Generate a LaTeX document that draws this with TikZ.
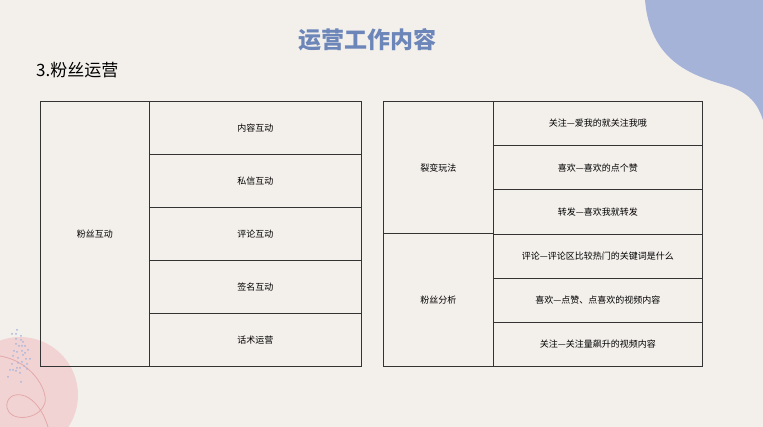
\documentclass[tikz,border=0pt]{standalone}
\usepackage{fontspec}
\setmainfont{Noto Sans CJK SC}
\usetikzlibrary{positioning}
\definecolor{bgpaper}{HTML}{F3F0EC}
\definecolor{blobblue}{HTML}{A5B3D8}
\definecolor{titleblue}{HTML}{6C86B9}
\definecolor{blobpink}{HTML}{F2D3D3}
\definecolor{linepink}{HTML}{E3A9AB}
\definecolor{dotblue}{HTML}{A8B5DC}
\tikzset{
    cell/.style={draw=black!80, thick, anchor=north west, font=\fontsize{9}{11}\selectfont, inner sep=0pt}
}
\begin{document}
\begin{tikzpicture}[x=1pt, y=-1pt]
    % background
    \fill[bgpaper] (0,0) rectangle (763,427);
    \useasboundingbox (0,0) rectangle (763,427);

    % decorations
    \fill[blobblue] (645,0) .. controls (650,60) and (690,75) .. (725,85)
        .. controls (750,92) and (758,105) .. (763,120) -- (763,0) -- cycle;
    \fill[blobpink] (20,395) circle (58);
    \draw[linepink, thick] (0,356) .. controls (35,362) and (50,395) .. (44,405)
        .. controls (38,420) and (10,422) .. (7,408) .. controls (4,390) and (35,385) .. (48,427);
    \foreach \px/\py in {17/20, 12/24, 16/24, 21/26, 16/29, 21/30, 23/32, 16/34, 19/36, 22/36, 25/36,
        14/41, 17/42, 22/41, 25/43, 28/40, 13/46, 18/48, 23/45, 26/49, 30/49, 12/54, 18/53,
        22/52, 27/54, 17/58, 20/58, 24/56, 10/60, 13/60, 16/61, 20/63, 27/59, 8/67, 21/72}
        \fill[dotblue] (\px,310+\py) circle (1);

    % headings
    \node[font=\fontsize{23}{26}\selectfont\bfseries, text=titleblue] (title) at (367,40) {运营工作内容};
    \node[font=\fontsize{17}{20}\selectfont, anchor=west, inner sep=0pt] (sub) at (36,70) {3.粉丝运营};

    % left table
    \node[cell, minimum width=109, minimum height=265] (fans) at (40,101) {粉丝互动};
    \foreach \t [count=\i] in {内容互动,私信互动,评论互动,签名互动,话术运营}
        \node[cell, minimum width=212, minimum height=53] (l\i) at (149,101+53*\i-53) {\t};

    % right table
    \node[cell, minimum width=110, minimum height=132.5] (split) at (383,101) {裂变玩法};
    \node[cell, minimum width=110, minimum height=132.5] (ana) at (383,233.5) {粉丝分析};
    \foreach \t [count=\i] in {关注—爱我的就关注我哦,喜欢—喜欢的点个赞,转发—喜欢我就转发,
        评论—评论区比较热门的关键词是什么,喜欢—点赞、点喜欢的视频内容,关注—关注量飙升的视频内容}
        \node[cell, minimum width=209, minimum height=44.17] (r\i) at (493,101+44.17*\i-44.17) {\t};
\end{tikzpicture}
\end{document}
